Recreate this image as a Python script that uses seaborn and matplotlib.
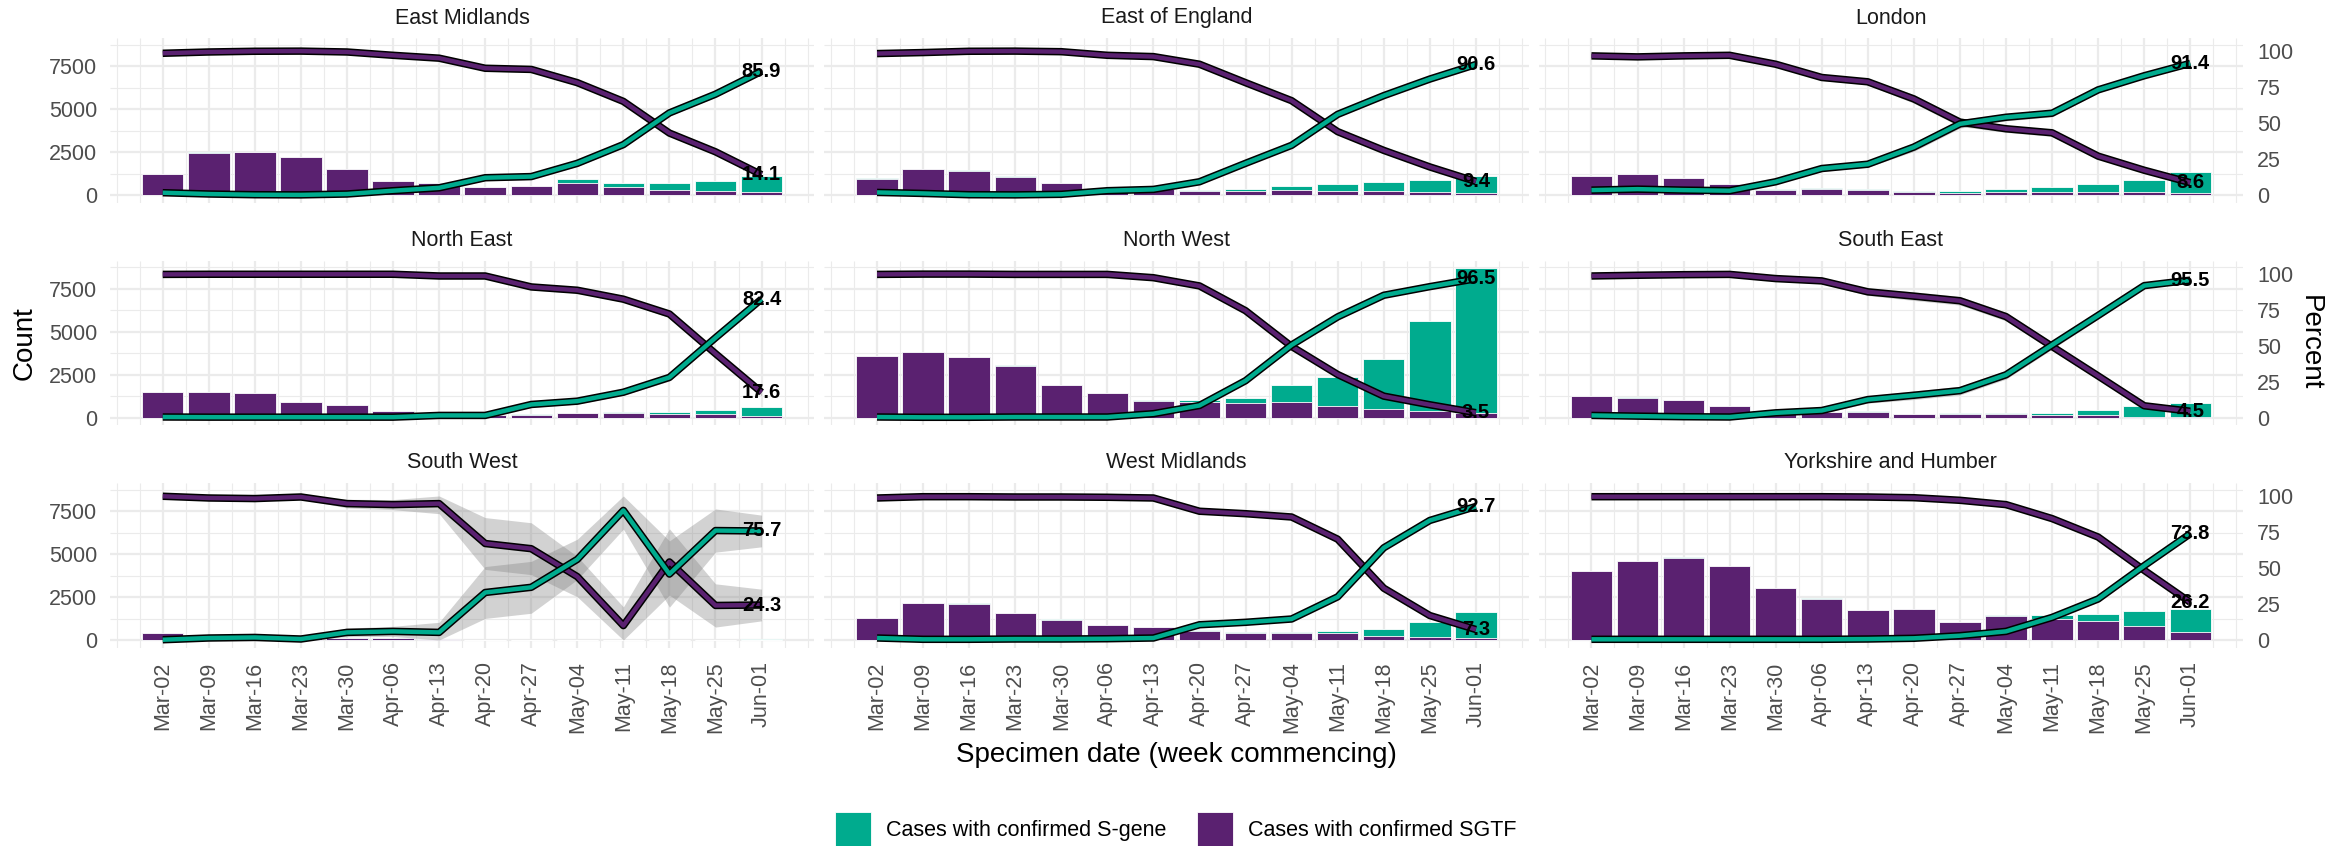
import numpy as np
import pandas as pd
import matplotlib
matplotlib.use("Agg")
import matplotlib.pyplot as plt
from matplotlib.patches import Rectangle
from matplotlib.ticker import FixedLocator
import seaborn as sns

# ---------------------------------------------------------------- data
weeks = ["Mar-02", "Mar-09", "Mar-16", "Mar-23", "Mar-30", "Apr-06", "Apr-13",
         "Apr-20", "Apr-27", "May-04", "May-11", "May-18", "May-25", "Jun-01"]

regions = ["East Midlands", "East of England", "London",
           "North East", "North West", "South East",
           "South West", "West Midlands", "Yorkshire and Humber"]

# weekly counts of cases with confirmed SGTF
sgtf_cases = {
    "East Midlands":        [1200, 2460, 2480, 2190, 1490, 800, 680, 460, 500, 720, 450, 290, 230, 160],
    "East of England":      [960, 1520, 1420, 1075, 710, 360, 360, 260, 260, 300, 260, 230, 160, 90],
    "London":               [1110, 1230, 990, 640, 300, 350, 290, 165, 120, 170, 195, 180, 155, 115],
    "North East":           [1470, 1510, 1410, 890, 745, 415, 145, 145, 170, 257, 285, 230, 205, 115],
    "North West":           [3570, 3800, 3530, 3030, 1900, 1420, 1000, 900, 845, 900, 670, 500, 420, 290],
    "South East":           [1270, 1175, 1045, 660, 220, 315, 335, 198, 205, 205, 150, 130, 70, 40],
    "South West":           [400, 120, 110, 100, 110, 90, 40, 15, 10, 8, 5, 5, 3, 2],
    "West Midlands":        [1260, 2140, 2120, 1580, 1190, 860, 730, 540, 410, 415, 380, 230, 170, 110],
    "Yorkshire and Humber": [4020, 4600, 4790, 4310, 3015, 2405, 1735, 1780, 1040, 1380, 1210, 1090, 830, 470],
}

# weekly counts of cases with confirmed S-gene
sgene_cases = {
    "East Midlands":        [30, 20, 20, 10, 10, 20, 40, 30, 30, 220, 230, 390, 590, 970],
    "East of England":      [15, 20, 20, 15, 10, 20, 20, 30, 90, 250, 380, 550, 700, 1040],
    "London":               [20, 20, 20, 20, 30, 80, 80, 85, 115, 200, 255, 480, 745, 1230],
    "North East":           [10, 10, 10, 10, 5, 5, 5, 5, 20, 33, 60, 100, 255, 535],
    "North West":           [20, 20, 20, 20, 20, 20, 20, 120, 285, 1020, 1690, 2900, 5180, 8410],
    "South East":           [20, 15, 15, 10, 10, 15, 30, 36, 48, 87, 142, 298, 630, 797],
    "South West":           [5, 2, 2, 1, 5, 5, 3, 8, 6, 10, 15, 5, 10, 30],
    "West Midlands":        [20, 10, 10, 10, 10, 10, 10, 60, 55, 70, 160, 390, 860, 1500],
    "Yorkshire and Humber": [20, 20, 20, 20, 15, 15, 15, 20, 30, 90, 230, 440, 880, 1320],
}

# percentage of cases with confirmed S-gene
sgene_pct = {
    "East Midlands":        [1.6, 0.7, 0.2, 0.1, 0.7, 3.0, 5.0, 12.0, 12.8, 22.0, 35.0, 57.0, 70.0, 85.9],
    "East of England":      [1.8, 1.1, 0.2, 0.1, 0.5, 3.0, 3.9, 9.2, 22.0, 34.5, 56.0, 69.0, 80.5, 90.6],
    "London":               [3.4, 4.1, 3.4, 3.0, 9.2, 18.4, 21.4, 33.3, 49.4, 54.0, 56.8, 73.0, 82.8, 91.4],
    "North East":           [0.5, 0.4, 0.4, 0.4, 0.4, 0.4, 1.6, 1.6, 9.2, 11.5, 17.7, 28.0, 55.5, 82.4],
    "North West":           [0.5, 0.3, 0.3, 0.5, 0.5, 0.5, 2.8, 8.5, 25.7, 50.5, 70.0, 85.0, 91.0, 96.5],
    "South East":           [1.6, 1.1, 0.7, 0.5, 3.4, 5.0, 12.6, 15.6, 18.8, 29.8, 50.5, 71.0, 91.7, 95.5],
    "South West":           [0.2, 1.4, 1.8, 0.7, 5.3, 6.0, 5.3, 33.0, 36.6, 56.0, 90.0, 45.8, 76.0, 75.7],
    "West Midlands":        [1.4, 0.5, 0.5, 0.7, 0.7, 0.9, 1.4, 10.6, 12.3, 14.6, 30.0, 64.0, 83.0, 92.7],
    "Yorkshire and Humber": [0.5, 0.5, 0.5, 0.5, 0.5, 0.5, 0.7, 1.2, 3.0, 6.0, 15.7, 28.5, 51.6, 73.8],
}

# percentage of cases with confirmed SGTF
sgtf_pct = {
    "East Midlands":        [98.4, 99.3, 99.8, 99.9, 99.3, 97.0, 95.0, 88.0, 87.2, 78.0, 65.0, 43.0, 30.0, 14.1],
    "East of England":      [98.2, 98.9, 99.8, 99.9, 99.5, 97.0, 96.1, 90.8, 78.0, 65.5, 44.0, 31.0, 19.5, 9.4],
    "London":               [96.6, 95.9, 96.6, 97.0, 90.8, 81.6, 78.6, 66.7, 50.6, 46.0, 43.2, 27.0, 17.2, 8.6],
    "North East":           [99.5, 99.6, 99.6, 99.6, 99.6, 99.6, 98.4, 98.4, 90.8, 88.5, 82.3, 72.0, 44.5, 17.6],
    "North West":           [99.5, 99.7, 99.7, 99.5, 99.5, 99.5, 97.2, 91.5, 74.3, 49.5, 30.0, 15.0, 9.0, 3.5],
    "South East":           [98.4, 98.9, 99.3, 99.5, 96.6, 95.0, 87.4, 84.4, 81.2, 70.2, 49.5, 29.0, 8.3, 4.5],
    "South West":           [99.8, 98.6, 98.2, 99.3, 94.7, 94.0, 94.7, 67.0, 63.4, 44.0, 10.0, 54.2, 24.0, 24.3],
    "West Midlands":        [98.6, 99.5, 99.5, 99.3, 99.3, 99.1, 98.6, 89.4, 87.7, 85.4, 70.0, 36.0, 17.0, 7.3],
    "Yorkshire and Humber": [99.5, 99.5, 99.5, 99.5, 99.5, 99.5, 99.3, 98.8, 97.0, 94.0, 84.3, 71.5, 48.4, 26.2],
}

# half-width of the 95% confidence interval (percentage points)
ci_half = {
    "East Midlands":        [1.0, 1.0, 0.8, 0.8, 1.0, 1.2, 1.5, 2.0, 2.0, 2.0, 2.0, 2.0, 2.0, 2.0],
    "East of England":      [1.0, 0.8, 0.8, 0.8, 1.0, 1.0, 1.2, 1.5, 1.5, 1.5, 1.5, 1.5, 1.2, 1.0],
    "London":               [1.0, 1.0, 1.0, 1.0, 1.2, 2.0, 2.0, 3.0, 3.0, 2.5, 2.5, 2.0, 1.5, 1.2],
    "North East":           [0.8, 0.8, 0.8, 1.0, 1.0, 1.0, 1.2, 1.5, 2.0, 2.0, 2.0, 2.5, 2.5, 2.5],
    "North West":           [0.6, 0.6, 0.6, 0.6, 0.8, 0.8, 1.0, 1.5, 1.5, 1.2, 1.0, 0.8, 0.6, 0.5],
    "South East":           [1.0, 1.0, 1.0, 1.0, 1.5, 2.0, 2.5, 3.0, 3.0, 3.0, 3.0, 2.5, 1.5, 1.2],
    "South West":           [1.0, 1.5, 1.5, 1.5, 3.0, 3.5, 7.0, 18.0, 18.0, 14.0, 13.0, 23.0, 15.0, 11.0],
    "West Midlands":        [1.0, 0.8, 0.8, 0.8, 1.0, 1.0, 1.2, 1.5, 1.5, 1.5, 1.5, 1.2, 1.0, 1.0],
    "Yorkshire and Humber": [0.8, 0.6, 0.6, 0.6, 0.8, 0.8, 1.0, 1.0, 1.2, 1.5, 1.5, 1.5, 1.5, 1.5],
}

count_ticks = [0, 2500, 5000, 7500]
pct_ticks = [0, 25, 50, 75, 100]

# ---------------------------------------------------------------- style
GREEN = "#00AB8E"
PURPLE = "#5A2170"
GRID = "#EBEBEB"
TICK_COL = "#4D4D4D"

sns.set_theme(style="white")
plt.rcParams["font.family"] = ["Liberation Sans", "DejaVu Sans"]
plt.rcParams["lines.solid_capstyle"] = "butt"
plt.rcParams["lines.solid_joinstyle"] = "round"

W, H = 2346, 846
fig = plt.figure(figsize=(W / 100, H / 100), dpi=100)

x = np.arange(len(weeks))
totals = {r: [a + b for a, b in zip(sgtf_cases[r], sgene_cases[r])] for r in regions}
ymax = max(max(v) for v in totals.values())
ylim = (-0.05 * ymax, 1.05 * ymax)
COUNT_PER_PCT = 83.8          # secondary axis: percent -> count units
xlim = (-1.145, len(weeks) - 1 + 1.145)

col_left = [110, 824.3, 1538.7]
panel_w = 704.3
row_top = [38, 260.7, 483]
panel_h = 164.5

OUTER_LW, INNER_LW = 5.4, 3.2

for i, reg in enumerate(regions):
    r, c = divmod(i, 3)
    ax = fig.add_axes([col_left[c] / W, 1 - (row_top[r] + panel_h) / H,
                       panel_w / W, panel_h / H])

    df = pd.DataFrame({"week": x, "total": totals[reg], "sgtf": sgtf_cases[reg]})
    # stacked bars: full height in green, SGTF part in purple from the base
    sns.barplot(data=df, x="week", y="total", native_scale=True, width=0.9,
                color=GREEN, saturation=1, edgecolor="white", linewidth=0.6,
                errorbar=None, ax=ax)
    sns.barplot(data=df, x="week", y="sgtf", native_scale=True, width=0.9,
                color=PURPLE, saturation=1, edgecolor="white", linewidth=0.6,
                errorbar=None, ax=ax)

    ax.set_xlim(*xlim)
    ax.set_ylim(*ylim)
    ax.xaxis.set_major_locator(FixedLocator(x))
    ax.xaxis.set_minor_locator(FixedLocator(
        [v for v in np.arange(-1, len(weeks) + 0.5, 0.5) if v not in set(x)]))
    ax.yaxis.set_major_locator(FixedLocator(count_ticks))
    ax.yaxis.set_minor_locator(FixedLocator([1250, 3750, 6250, 8750]))
    ax.grid(which="major", color=GRID, linewidth=1.6)
    ax.grid(which="minor", color=GRID, linewidth=0.8)
    ax.set_axisbelow(True)
    ax.set_xticklabels(weeks, rotation=90, ha="center", va="top")
    ax.set_yticklabels([f"{t}" for t in count_ticks])
    ax.tick_params(which="both", length=0)
    ax.tick_params(axis="y", labelsize=15.5, labelcolor=TICK_COL, pad=9,
                   labelleft=(c == 0))
    ax.tick_params(axis="x", labelsize=15.5, labelcolor=TICK_COL, pad=10,
                   labelbottom=(r == 2))
    ax.set_xlabel("")
    ax.set_ylabel("")
    for s in ax.spines.values():
        s.set_visible(False)

    # percent axis
    ax2 = ax.twinx()
    ax2.set_ylim(ylim[0] / COUNT_PER_PCT, ylim[1] / COUNT_PER_PCT)
    sg = np.array(sgene_pct[reg])
    sf = np.array(sgtf_pct[reg])
    hw = np.array(ci_half[reg])
    ax2.fill_between(x, np.clip(sf - hw, 0, 100), np.clip(sf + hw, 0, 100),
                     color="#7F7F7F", alpha=0.35, linewidth=0)
    ax2.fill_between(x, np.clip(sg - hw, 0, 100), np.clip(sg + hw, 0, 100),
                     color="#7F7F7F", alpha=0.35, linewidth=0)
    sns.lineplot(x=x, y=sf, ax=ax2, color="black", linewidth=OUTER_LW)
    sns.lineplot(x=x, y=sf, ax=ax2, color=PURPLE, linewidth=INNER_LW)
    sns.lineplot(x=x, y=sg, ax=ax2, color="black", linewidth=OUTER_LW)
    sns.lineplot(x=x, y=sg, ax=ax2, color=GREEN, linewidth=INNER_LW)
    for v in (sg[-1], sf[-1]):
        ax2.text(x[-1], v, f"{v:.1f}", ha="center", va="center",
                 fontsize=14.5, fontweight="bold", color="black", zorder=10)
    ax2.set_xlim(*xlim)
    ax2.yaxis.set_major_locator(FixedLocator(pct_ticks))
    ax2.set_yticklabels([f"{t}" for t in pct_ticks])
    ax2.grid(False)
    ax2.tick_params(which="both", length=0)
    ax2.tick_params(axis="y", labelsize=15.5, labelcolor=TICK_COL, pad=10,
                    labelright=(c == 2))
    ax2.set_xlabel("")
    ax2.set_ylabel("")
    for s in ax2.spines.values():
        s.set_visible(False)

    # facet title
    fig.text((col_left[c] + panel_w / 2) / W, 1 - (row_top[r] - 20) / H, reg,
             ha="center", va="center", fontsize=15.5, color="#1A1A1A")

# axis titles
fig.text(25 / W, 1 - 343 / H, "Count", rotation=90, ha="center", va="center",
         fontsize=20, color="black")
fig.text(2310 / W, 1 - 343 / H, "Percent", rotation=-90, ha="center", va="center",
         fontsize=20, color="black")
fig.text(1176 / W, 1 - 755 / H, "Specimen date (week commencing)",
         ha="center", va="center", fontsize=20, color="black")

# legend
legend_items = [("Cases with confirmed S-gene", GREEN, 835),
                ("Cases with confirmed SGTF", PURPLE, 1197)]
for label, col, kx in legend_items:
    fig.patches.append(Rectangle((kx / W, 1 - 848 / H), 36 / W, 36 / H,
                                 transform=fig.transFigure, facecolor=col,
                                 edgecolor="white", linewidth=0.6))
    fig.text((kx + 51) / W, 1 - 830 / H, label, ha="left", va="center",
             fontsize=15.5, color="black")

fig.savefig("out.png", dpi=100, facecolor="white")
